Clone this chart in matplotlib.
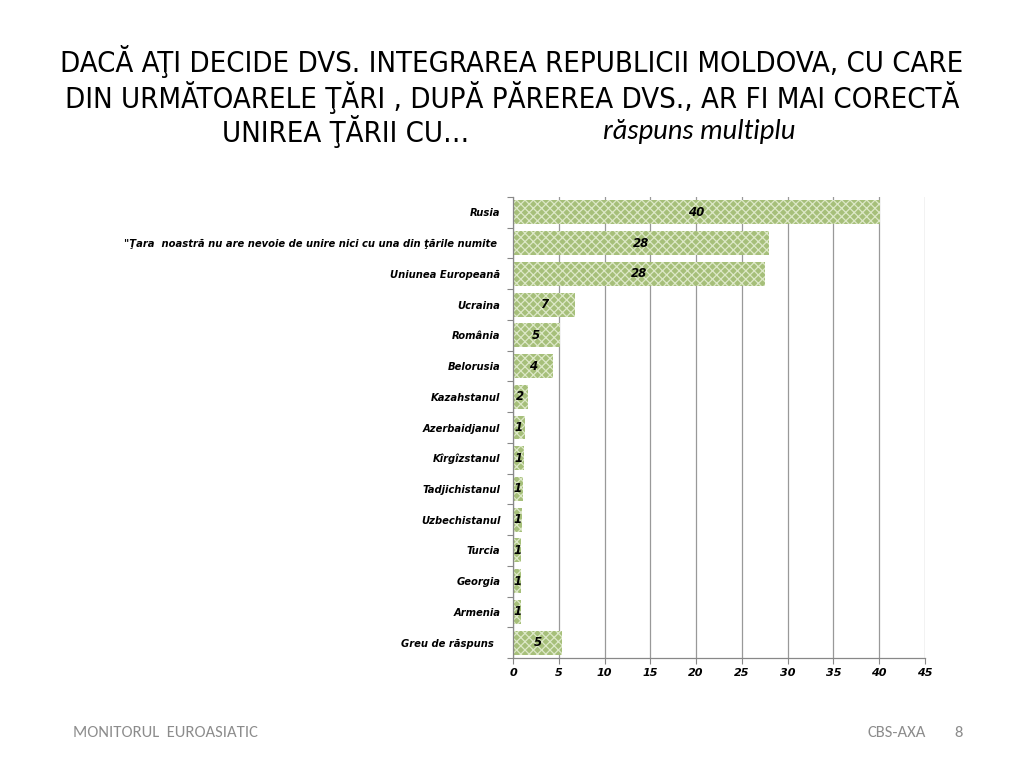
import matplotlib
matplotlib.use("Agg")
import matplotlib.pyplot as plt

categories = [
    "Rusia",
    "\"Ţara  noastră nu are nevoie de unire nici cu una din ţările numite ",
    "Uniunea Europeană",
    "Ucraina",
    "România",
    "Belorusia",
    "Kazahstanul",
    "Azerbaidjanul",
    "Kîrgîzstanul",
    "Tadjichistanul",
    "Uzbechistanul",
    "Turcia",
    "Georgia",
    "Armenia",
    "Greu de răspuns  ",
]
values = [40.1, 28.0, 27.5, 6.8, 5.1, 4.4, 1.6, 1.3, 1.2, 1.1, 1.0, 0.9, 0.9, 0.9, 5.4]
value_labels = ["40", "28", "28", "7", "5", "4", "2", "1", "1", "1", "1", "1", "1", "1", "5"]
x_ticks = [0, 5, 10, 15, 20, 25, 30, 35, 40, 45]

title_lines = [
    "DACĂ AŢI DECIDE DVS. INTEGRAREA REPUBLICII MOLDOVA, CU CARE",
    "DIN URMĂTOARELE ŢĂRI , DUPĂ PĂREREA DVS., AR FI MAI CORECTĂ",
]
title_line3 = "UNIREA ŢĂRII CU…"
subtitle = "răspuns multiplu"
footer_left = "MONITORUL  EUROASIATIC"
footer_mid = "CBS-AXA"
footer_page = "8"

plt.rcParams['hatch.linewidth'] = 0.9

fig = plt.figure(figsize=(10.24, 7.68), dpi=100)
fig.patch.set_facecolor("white")
W, H = 1024, 768
ax = fig.add_axes([513 / W, 1 - 658 / H, (925 - 513) / W, (658 - 197) / H])

ypos = list(range(len(categories)))
bars = ax.barh(ypos, values, height=0.78, color="#a6bf7a", edgecolor="#dde8c8",
               hatch="xxxx", linewidth=0)
for b, v, lab in zip(bars, values, value_labels):
    ax.text(v / 2, b.get_y() + b.get_height() / 2, lab, ha="center", va="center",
            fontsize=8.5, fontweight="bold", fontstyle="italic", color="black",
            family="DejaVu Sans")

ax.set_ylim(len(categories) - 0.5, -0.5)
ax.set_xlim(0, 45)
ax.set_xticks(x_ticks)
ax.set_xticklabels([str(t) for t in x_ticks], fontsize=8, fontweight="bold",
                   fontstyle="italic", family="DejaVu Sans")
ax.set_yticks(ypos)
ax.set_yticklabels(categories, fontsize=7.2, fontweight="bold", fontstyle="italic",
                   family="DejaVu Sans")
ax.tick_params(axis="y", length=0, pad=9)
ax.set_yticks([i + 0.5 for i in range(-1, len(categories))], minor=True)
ax.tick_params(axis="y", which="minor", length=4, color="#888888", width=0.8)
ax.tick_params(axis="x", length=4, color="#888888", width=0.8, pad=3)
ax.grid(axis="x", color="#999999", linewidth=0.9)
ax.set_axisbelow(True)
for s in ["top", "right"]:
    ax.spines[s].set_visible(False)
for s in ["left", "bottom"]:
    ax.spines[s].set_color("#888888")
    ax.spines[s].set_linewidth(0.9)

tkw = dict(fontsize=21, family="DejaVu Sans", fontstretch="condensed")
fig.text(0.5, 1 - 62 / H, title_lines[0], ha="center", va="center", **tkw)
fig.text(0.5, 1 - 97 / H, title_lines[1], ha="center", va="center", **tkw)
fig.text(222 / W, 1 - 131 / H, title_line3, ha="left", va="center", **tkw)
fig.text(603 / W, 1 - 131 / H, subtitle, ha="left", va="center", fontsize=20.5,
         fontstyle="italic", family=["Carlito", "Open Sans"])

fkw = dict(fontsize=12, color="#8c8c8c", family=["Carlito", "Open Sans"], va="center")
fig.text(73 / W, 1 - 733 / H, footer_left, ha="left", **fkw)
fig.text(868 / W, 1 - 733 / H, footer_mid, ha="left", **fkw)
fig.text(959 / W, 1 - 733 / H, footer_page, ha="center", **fkw)

fig.savefig("out.png", dpi=100)
